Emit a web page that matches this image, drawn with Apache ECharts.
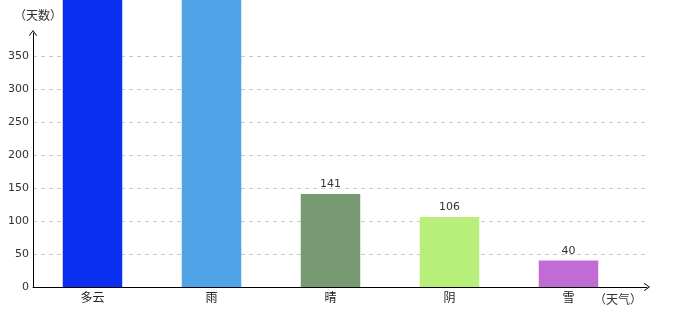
<!DOCTYPE html>
<html><head><meta charset="utf-8">
<script src="https://cdn.jsdelivr.net/npm/echarts@6/dist/echarts.min.js"></script>
<style>html,body{margin:0;padding:0;background:#fff}#c{width:680px;height:320px}</style>
</head><body><div id="c"></div>
<script>
const categories = ['多云', '雨', '晴', '阴', '雪'];
const days = [520, 500, 141, 106, 40];
const barColors = ['#0a2ff0', '#50a3e6', '#789a73', '#b8ef7a', '#c16cd4'];
const yTicks = [0, 50, 100, 150, 200, 250, 300, 350];
const yMax = 385;
const yName = '（天数）';
const xName = '（天气）';

const chev = 'path://M0,0 L5,7 L4.2,7.6 L0,1.6 L-4.2,7.6 L-5,7 Z';
const lab = {fontFamily: 'DejaVu Sans', fontSize: 11, color: '#333'};
const cjk = {fontFamily: '"Noto Sans CJK JP"', fontSize: 12, color: '#222'};

const chart = echarts.init(document.getElementById('c'), null, {renderer: 'canvas'});
chart.setOption({
  animation: false,
  grid: [
    {left: 33, right: 33, top: 33, bottom: 33},
    {left: 33, right: 52, top: 33, bottom: 33}
  ],
  xAxis: [
    {gridIndex: 0, type: 'value', min: 0, max: 1,
     axisLabel: {show: false}, axisTick: {show: false}, splitLine: {show: false},
     axisLine: {show: true, lineStyle: {color: '#000', width: 1}, symbol: ['none', chev], symbolSize: [8, 9]},
     name: xName, nameLocation: 'end', nameGap: -5,
     nameTextStyle: Object.assign({}, cjk, {align: 'right', verticalAlign: 'top', padding: [6, 0, 0, 0], color: '#333'})},
    {gridIndex: 1, type: 'category', data: categories,
     axisLine: {show: false}, axisTick: {show: false}, splitLine: {show: false},
     axisLabel: Object.assign({}, cjk, {margin: 4})}
  ],
  yAxis: [
    {gridIndex: 0, type: 'value', min: 0, max: yMax, interval: 50,
     axisLine: {show: true, lineStyle: {color: '#000', width: 1}, symbol: ['none', chev], symbolSize: [8, 9]},
     axisTick: {show: false},
     axisLabel: Object.assign({}, lab, {margin: 4, formatter: v => yTicks.includes(v) ? String(v) : ''}),
     splitLine: {show: true, lineStyle: {type: [4, 4], width: 1,
       color: yTicks.map(() => '#cccccc').concat(['rgba(0,0,0,0)'])}},
     name: yName, nameLocation: 'end', nameGap: 12,
     nameTextStyle: Object.assign({}, cjk, {padding: [0, 0, 0, 10], color: '#333'})},
    {gridIndex: 1, type: 'value', min: 0, max: yMax, show: false, splitLine: {show: false}}
  ],
  series: [{
    type: 'bar', xAxisIndex: 1, yAxisIndex: 1, clip: false, barWidth: '50%',
    data: days.map((v, i) => ({value: v, itemStyle: {color: barColors[i]}})),
    label: Object.assign({show: true, position: 'top', distance: 4}, lab)
  }]
});
</script></body></html>
